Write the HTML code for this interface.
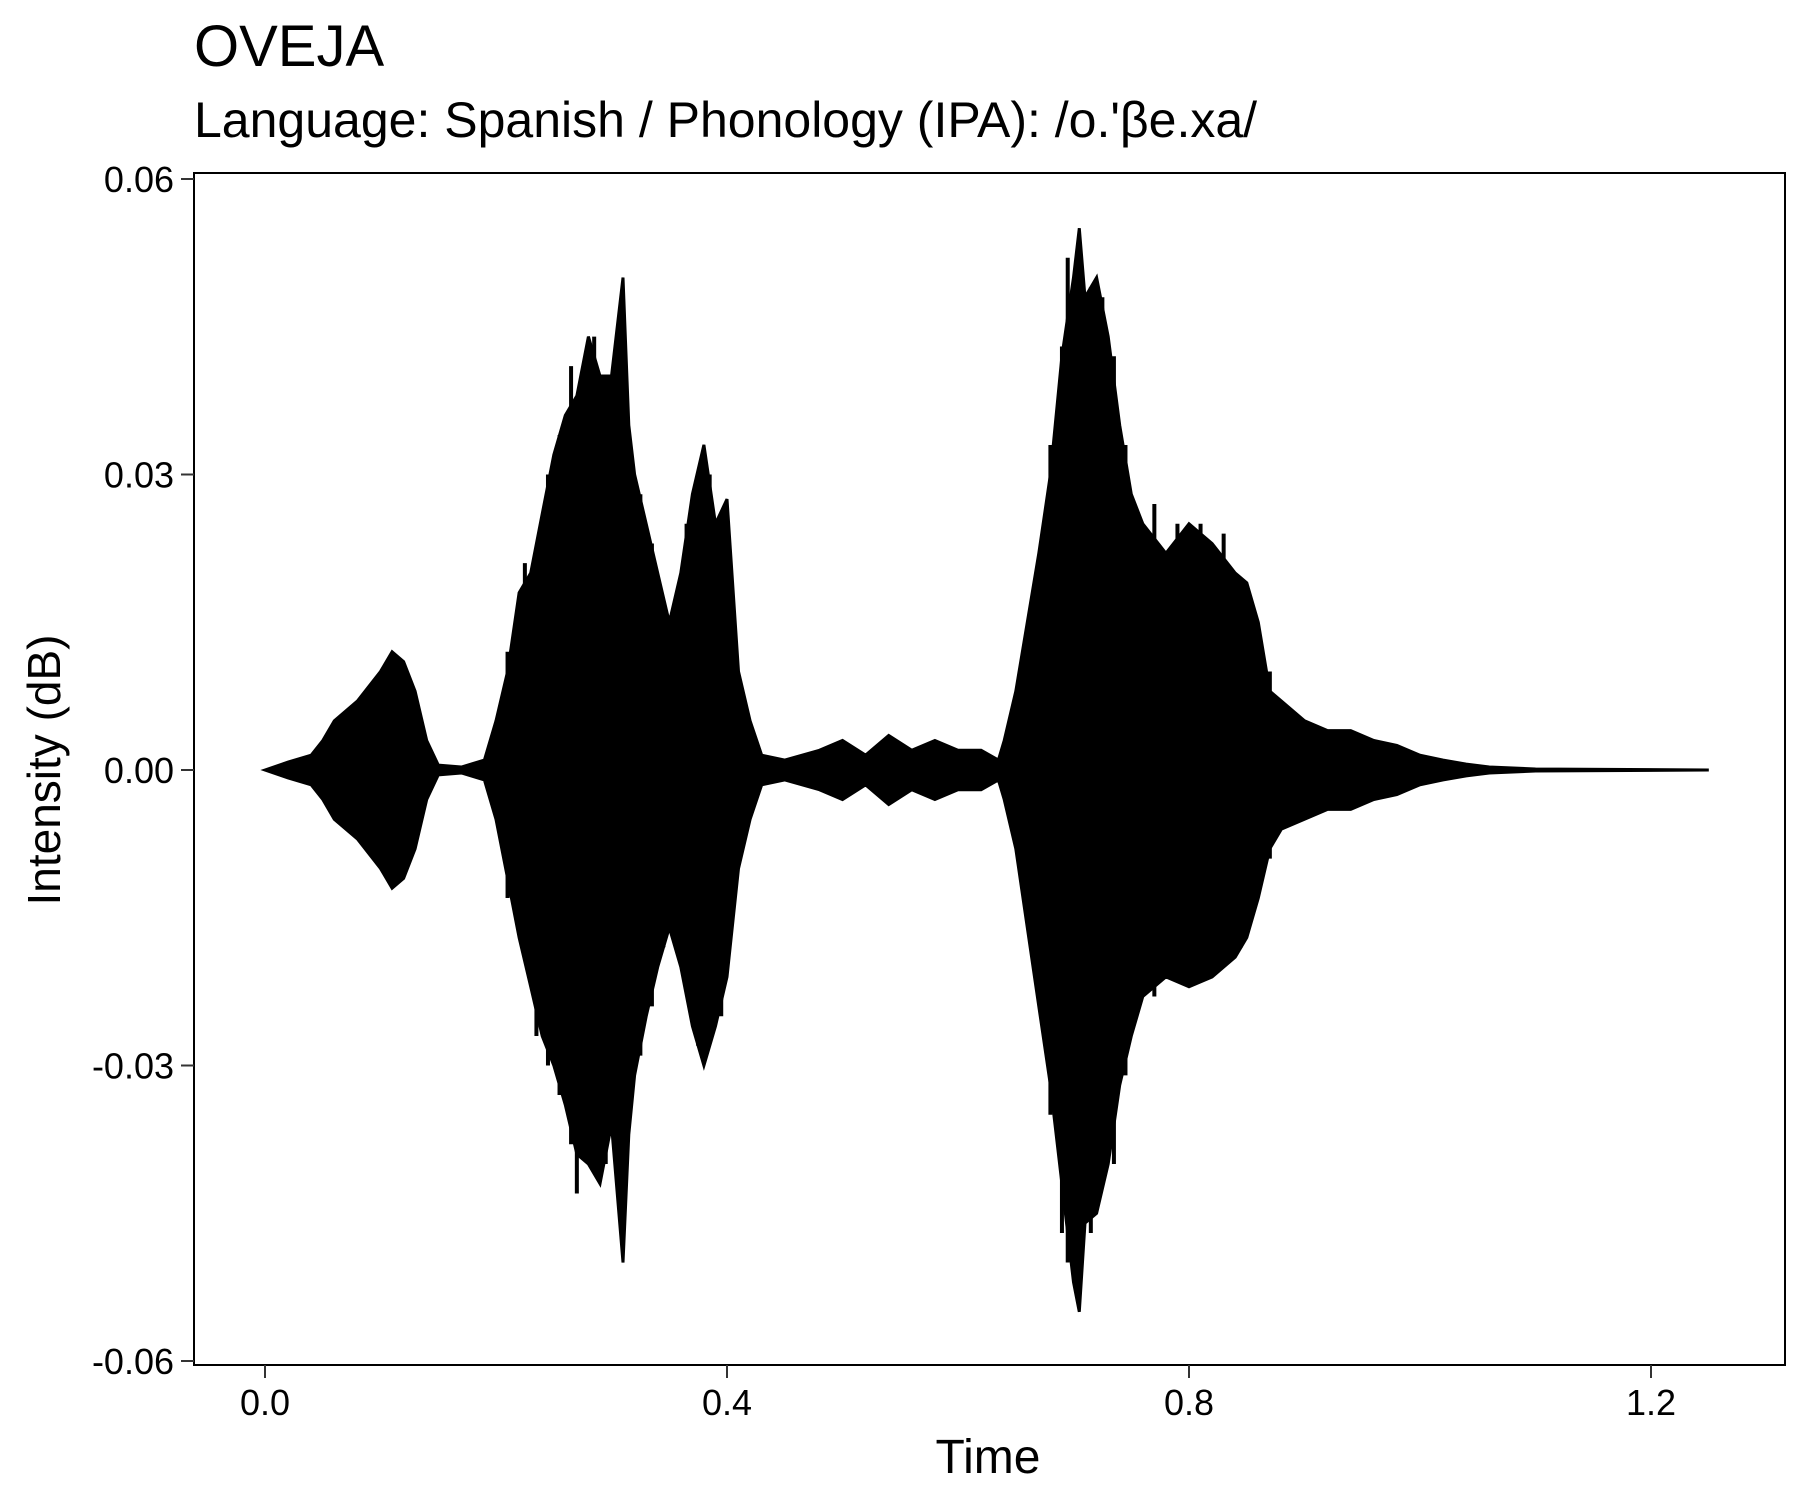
<!DOCTYPE html>
<html><head><meta charset="utf-8"><style>
html,body{margin:0;padding:0;background:#fff;}
svg text{font-family:"Liberation Sans",Arial,sans-serif;fill:#000;}
</style></head><body>
<svg id="chart" width="1800" height="1500" viewBox="0 0 1800 1500" xmlns="http://www.w3.org/2000/svg">
<rect width="1800" height="1500" fill="#fff"/>
<text x="194" y="66" font-size="58">OVEJA</text>
<text x="194" y="137" font-size="50">Language: Spanish / Phonology (IPA): /o.'βe.xa/</text>
<g id="plot"></g>
<rect x="194" y="173" width="1591" height="1192" fill="none" stroke="#000" stroke-width="2"/>
<g id="axes"></g>
<text x="988" y="1473" font-size="48" text-anchor="middle">Time</text>
<text transform="translate(60,770) rotate(-90)" font-size="46" text-anchor="middle">Intensity (dB)</text>
</svg>
<script>
const times = [0,0.02,0.04,0.05,0.06,0.08,0.10,0.11,0.12,0.13,0.14,0.15,0.17,0.19,0.20,0.21,0.22,0.23,0.24,0.25,0.26,0.27,0.28,0.29,0.30,0.31,0.315,0.32,0.33,0.34,0.35,0.36,0.37,0.38,0.39,0.40,0.41,0.42,0.43,0.45,0.48,0.50,0.52,0.54,0.56,0.58,0.60,0.62,0.635,0.64,0.65,0.66,0.67,0.68,0.69,0.70,0.705,0.71,0.72,0.73,0.74,0.75,0.76,0.78,0.80,0.82,0.84,0.85,0.86,0.87,0.88,0.90,0.92,0.94,0.96,0.98,1.00,1.02,1.04,1.06,1.10,1.25];
const upper = [0,0.0008,0.0015,0.003,0.005,0.007,0.010,0.012,0.011,0.008,0.003,0.0005,0.0003,0.001,0.005,0.010,0.018,0.020,0.026,0.032,0.036,0.038,0.044,0.040,0.040,0.050,0.035,0.030,0.025,0.020,0.015,0.020,0.028,0.033,0.025,0.0275,0.010,0.005,0.0015,0.001,0.002,0.003,0.0015,0.0035,0.002,0.003,0.002,0.002,0.001,0.003,0.008,0.015,0.022,0.030,0.042,0.050,0.055,0.048,0.050,0.044,0.035,0.028,0.025,0.022,0.025,0.023,0.020,0.019,0.015,0.008,0.007,0.005,0.004,0.004,0.003,0.0025,0.0015,0.001,0.0006,0.0003,0.0001,0];
const lower = [0,-0.0008,-0.0015,-0.003,-0.005,-0.007,-0.010,-0.012,-0.011,-0.008,-0.003,-0.0005,-0.0003,-0.001,-0.005,-0.011,-0.017,-0.022,-0.027,-0.030,-0.034,-0.039,-0.040,-0.042,-0.036,-0.050,-0.037,-0.031,-0.025,-0.020,-0.016,-0.020,-0.026,-0.030,-0.026,-0.021,-0.010,-0.005,-0.0015,-0.001,-0.002,-0.003,-0.0015,-0.0035,-0.002,-0.003,-0.002,-0.002,-0.001,-0.003,-0.008,-0.016,-0.024,-0.032,-0.042,-0.052,-0.055,-0.046,-0.045,-0.040,-0.032,-0.027,-0.023,-0.021,-0.022,-0.021,-0.019,-0.017,-0.013,-0.008,-0.006,-0.005,-0.004,-0.004,-0.003,-0.0025,-0.0015,-0.001,-0.0006,-0.0003,-0.0001,0];
const spikeTimes = [0.21,0.225,0.235,0.245,0.255,0.265,0.27,0.285,0.295,0.30,0.305,0.325,0.335,0.345,0.365,0.375,0.385,0.395,0.68,0.69,0.695,0.70,0.715,0.725,0.735,0.745,0.77,0.79,0.81,0.83,0.845,0.855,0.87];
const spikeHigh = [0.012,0.021,0.018,0.030,0.034,0.041,0.036,0.044,0.037,0.035,0.032,0.028,0.023,0.017,0.025,0.028,0.030,0.024,0.033,0.043,0.052,0.045,0.049,0.048,0.042,0.033,0.027,0.025,0.025,0.024,0.019,0.016,0.010];
const spikeLow = [-0.013,-0.019,-0.027,-0.030,-0.033,-0.038,-0.043,-0.035,-0.040,-0.036,-0.034,-0.029,-0.024,-0.018,-0.022,-0.028,-0.027,-0.025,-0.035,-0.047,-0.050,-0.046,-0.047,-0.042,-0.040,-0.031,-0.023,-0.020,-0.021,-0.020,-0.018,-0.014,-0.009];
const xTicks = [0.0,0.4,0.8,1.2];
const xTickLabels = ["0.0","0.4","0.8","1.2"];
const yTicks = [0.06,0.03,0.00,-0.03,-0.06];
const yTickLabels = ["0.06","0.03","0.00","-0.03","-0.06"];

const NS="http://www.w3.org/2000/svg";
const xs = t => 265 + t*(1651-265)/1.2;
const ys = v => 770 - v*(770-179)/0.06;
const plot=document.getElementById('plot');
const axes=document.getElementById('axes');

let pts=[];
for(let i=0;i<times.length;i++) pts.push(xs(times[i]).toFixed(1)+','+ys(upper[i]).toFixed(1));
for(let i=times.length-1;i>=0;i--) pts.push(xs(times[i]).toFixed(1)+','+ys(lower[i]).toFixed(1));
const poly=document.createElementNS(NS,'polygon');


poly.setAttribute('points',pts.join(' '));
poly.setAttribute('fill','#000');
poly.setAttribute('stroke','#000');
poly.setAttribute('stroke-width','3');
plot.appendChild(poly);

spikeTimes.forEach((t,i)=>{
  const l=document.createElementNS(NS,'line');
  
  
  l.setAttribute('x1',xs(t));l.setAttribute('x2',xs(t));
  l.setAttribute('y1',ys(spikeHigh[i]));l.setAttribute('y2',ys(spikeLow[i]));
  l.setAttribute('stroke','#000');l.setAttribute('stroke-width','4');
  plot.appendChild(l);
});

xTicks.forEach((t,i)=>{
  const l=document.createElementNS(NS,'line');
  
  
  l.setAttribute('x1',xs(t));l.setAttribute('x2',xs(t));
  l.setAttribute('y1',1365);l.setAttribute('y2',1378);
  l.setAttribute('stroke','#333');l.setAttribute('stroke-width','2');
  axes.appendChild(l);
  const tx=document.createElementNS(NS,'text');
  
  
  tx.setAttribute('x',xs(t));tx.setAttribute('y',1415);
  tx.setAttribute('font-size','36');tx.setAttribute('text-anchor','middle');
  tx.textContent=xTickLabels[i];
  axes.appendChild(tx);
});
yTicks.forEach((v,i)=>{
  const l=document.createElementNS(NS,'line');
  
  
  l.setAttribute('x1',181);l.setAttribute('x2',194);
  l.setAttribute('y1',ys(v));l.setAttribute('y2',ys(v));
  l.setAttribute('stroke','#333');l.setAttribute('stroke-width','2');
  axes.appendChild(l);
  const tx=document.createElementNS(NS,'text');
  
  
  tx.setAttribute('x',174);tx.setAttribute('y',ys(v)+13);
  tx.setAttribute('font-size','36');tx.setAttribute('text-anchor','end');
  tx.textContent=yTickLabels[i];
  axes.appendChild(tx);
});
</script>
</body></html>
